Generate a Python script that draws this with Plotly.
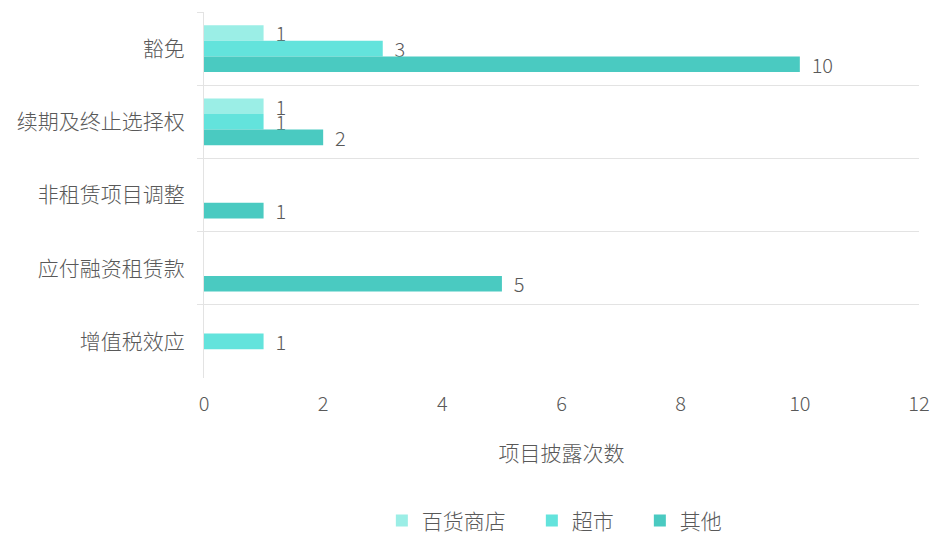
import plotly.graph_objects as go

categories = ['豁免', '续期及终止选择权', '非租赁项目调整', '应付融资租赁款', '增值税效应']
series_names = ['百货商店\u3000', '超市\u3000', '其他']
dept_store = [1, 1, None, None, None]
supermarket = [3, 1, None, None, 1]
others = [10, 2, 1, 5, None]
colors = ['#9beee6', '#63e3dc', '#4acac1']

font_family = 'Noto Sans CJK SC'
grey = '#595959'

fig = go.Figure()
for name, vals, col in zip(series_names, [dept_store, supermarket, others], colors):
    fig.add_trace(go.Bar(
        name=name, y=categories, x=vals, orientation='h',
        marker=dict(color=col, line=dict(width=0)),
        texttemplate='  %{x}', textposition='outside', cliponaxis=False,
        constraintext='none',
        textfont=dict(size=20, color=grey, family=font_family, weight=300),
    ))

# page body has an 8px margin, so margins are shifted to compensate
fig.update_layout(
    width=951, height=548,
    margin=dict(l=196, r=40, t=4, b=178),
    barmode='group', bargap=0.36, bargroupgap=0,
    paper_bgcolor='white', plot_bgcolor='white',
    font=dict(family=font_family, size=20, color=grey, weight=300),
    legend=dict(orientation='h', x=0.49, xanchor='center', y=-0.39, yanchor='middle',
                font=dict(size=21, color=grey, weight=300), itemwidth=30,
                traceorder='normal'),
    xaxis=dict(range=[0, 12], dtick=2, showgrid=False, zeroline=False,
               tickfont=dict(size=20, color=grey, weight=300), ticklabelstandoff=12,
               title=dict(text='项目披露次数', standoff=30,
                          font=dict(size=21, color=grey, weight=300))),
    yaxis=dict(autorange='reversed', tickson='boundaries', showgrid=True,
               gridcolor='#e3e3e3', gridwidth=1, ticks='outside', ticklen=6,
               tickcolor='#e3e3e3', showline=True, linecolor='#e3e3e3',
               ticklabelstandoff=14, tickfont=dict(size=21, color=grey, weight=300)),
)

fig.write_html('out.html')
